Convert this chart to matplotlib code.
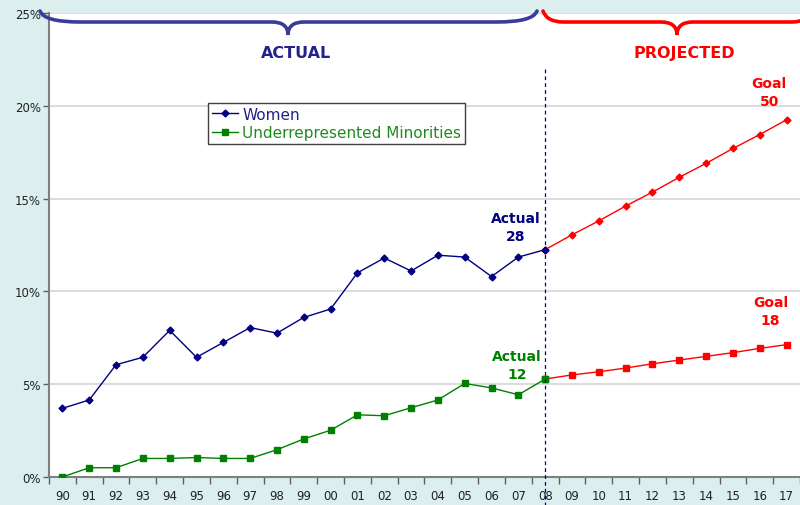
import matplotlib
matplotlib.use("Agg")
import matplotlib.pyplot as plt
from matplotlib.path import Path
from matplotlib.patches import PathPatch
from matplotlib.transforms import Affine2D
from matplotlib.ticker import FixedLocator, FuncFormatter

years = ["90", "91", "92", "93", "94", "95", "96", "97", "98", "99", "00", "01", "02", "03",
         "04", "05", "06", "07", "08", "09", "10", "11", "12", "13", "14", "15", "16", "17"]
women_actual = [3.7, 4.15, 6.05, 6.45, 7.9, 6.45, 7.25, 8.05, 7.75, 8.6, 9.05, 11.0, 11.8, 11.1,
                11.95, 11.85, 10.8, 11.85, 12.25]
women_proj = [12.25, 13.05, 13.8, 14.6, 15.35, 16.15, 16.9, 17.7, 18.45, 19.25]
urm_actual = [0.0, 0.5, 0.5, 1.0, 1.0, 1.05, 1.0, 1.0, 1.47, 2.05, 2.52, 3.35, 3.3, 3.73,
              4.15, 5.04, 4.8, 4.43, 5.28]
urm_proj = [5.28, 5.5, 5.67, 5.87, 6.1, 6.3, 6.5, 6.7, 6.93, 7.13]

NAVY = "#000080"
GREEN = "#008000"
RED = "#FF0000"
BRACE_BLUE = "#3B3B9A"
BG = "#DCEEEE"

fig = plt.figure(figsize=(8, 5.06), dpi=100, facecolor=BG)
ax = fig.add_axes([49 / 800, 28 / 506, 751 / 800, 464 / 506])
ax.set_facecolor("white")

xa = list(range(len(women_actual)))
xp = list(range(len(women_actual) - 1, len(years)))

ax.plot(xp, women_proj, color=RED, lw=1, marker="D", ms=3.5, zorder=3)
ax.plot(xp, urm_proj, color=RED, lw=1, marker="s", ms=4.5, zorder=3)
ax.plot(xa, women_actual, color=NAVY, lw=1, marker="D", ms=3.5, label="Women", zorder=4)
ax.plot(xa, urm_actual, color=GREEN, lw=1, marker="s", ms=4.5,
        label="Underrepresented Minorities", zorder=4)

ax.set_xlim(-0.5, len(years) - 0.5)
ax.set_ylim(0, 25)
ax.set_yticks([0, 5, 10, 15, 20, 25])
ax.yaxis.set_major_formatter(FuncFormatter(lambda v, p: f"{int(v)}%"))
ax.set_xticks(range(len(years)))
ax.set_xticklabels(years)
ax.xaxis.set_minor_locator(FixedLocator([i - 0.5 for i in range(len(years) + 1)]))
ax.tick_params(axis="x", which="major", length=0, pad=9, labelsize=8.5, labelcolor="#222222")
ax.tick_params(axis="x", which="minor", length=5, color="#606060", width=1)
ax.tick_params(axis="y", which="major", length=4, color="#606060", width=1, labelsize=8.5,
               labelcolor="#222222", pad=2)
ax.grid(axis="y", color="#D6D6D6", lw=1.2)
ax.set_axisbelow(True)
for s in ["top", "right"]:
    ax.spines[s].set_visible(False)
for s in ["left", "bottom"]:
    ax.spines[s].set_color("#808080")
    ax.spines[s].set_linewidth(1.5)

# vertical dashed divider at 08
ax.plot([18, 18], [22.0, -1.55], color=NAVY, lw=0.9, ls=(0, (3, 2.5)), clip_on=False, zorder=5)

# texts
bold = dict(fontweight="bold", ha="center", va="center", fontsize=10, linespacing=1.35)
big = dict(bold, fontsize=11.5)
ax.text(8.7, 22.85, "ACTUAL", color="#22228A", **big)
ax.text(23.2, 22.85, "PROJECTED", color=RED, **big)
ax.text(26.35, 20.75, "Goal\n50", color=RED, **bold)
ax.text(16.9, 13.45, "Actual\n28", color=NAVY, **bold)
ax.text(16.95, 6.05, "Actual\n12", color=GREEN, **bold)
ax.text(26.4, 8.95, "Goal\n18", color=RED, **bold)

# braces drawn in figure pixel space
pix = Affine2D().scale(1 / 800, -1 / 506).translate(0, 1) + fig.transFigure


def brace(x0, x1, xm, ytop, ymid, ydip, r, s):
    verts = [(x0, ytop), (x0 + 4, ymid), (x0 + r, ymid),
             (xm - s, ymid), (xm, ymid), (xm, ydip),
             (xm, ymid), (xm + s, ymid),
             (x1 - r, ymid), (x1 - 4, ymid), (x1, ytop)]
    codes = [Path.MOVETO, Path.CURVE3, Path.CURVE3,
             Path.LINETO, Path.CURVE3, Path.CURVE3,
             Path.CURVE3, Path.CURVE3,
             Path.LINETO, Path.CURVE3, Path.CURVE3]
    return Path(verts, codes)


fig.patches.append(PathPatch(brace(40, 537, 288, 12, 23, 36, 40, 16), transform=pix,
                             fill=False, edgecolor=BRACE_BLUE, lw=2.6, capstyle="round"))
fig.patches.append(PathPatch(brace(543, 812, 677, 12, 23, 36, 20, 16), transform=pix,
                             fill=False, edgecolor=RED, lw=2.6, capstyle="round"))

leg = ax.legend(loc="upper left", bbox_to_anchor=(208 / 800, 1 - 104 / 506),
                bbox_transform=fig.transFigure, borderaxespad=0, fontsize=11,
                frameon=True, fancybox=False, shadow=False, framealpha=1,
                edgecolor="#404040", handlelength=1.7, handletextpad=0.3,
                labelspacing=0.2, borderpad=0.25, labelcolor="linecolor")
leg.get_frame().set_linewidth(1)
leg.texts[0].set_color("#22228A")
leg.texts[1].set_color("#1E8C1E")

fig.savefig("out.png", dpi=100, facecolor=BG)
